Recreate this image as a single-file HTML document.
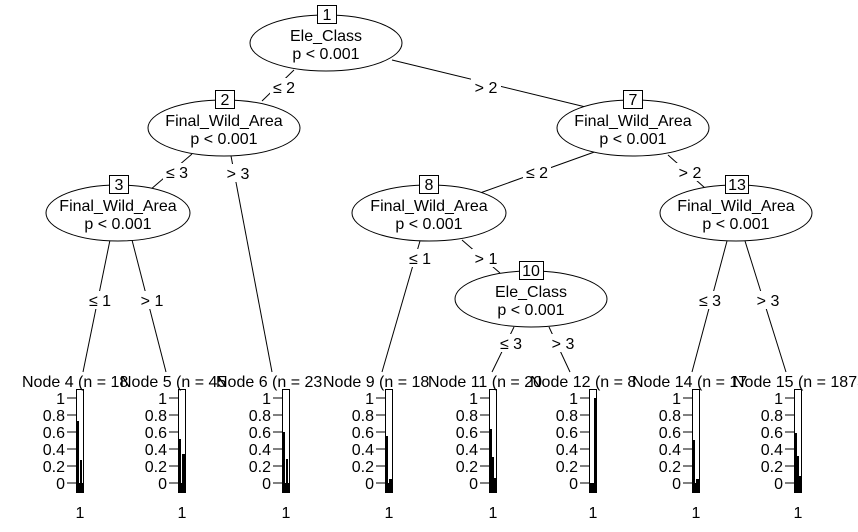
<!DOCTYPE html>
<html><head><meta charset="utf-8"><style>
html,body{margin:0;padding:0;background:#fff}
svg{display:block}
text{font-family:"Liberation Sans",Arial,sans-serif;font-size:16px;fill:#000}
</style></head><body>
<svg width="858" height="532" viewBox="0 0 858 532" xmlns="http://www.w3.org/2000/svg">
<g stroke="#000" stroke-width="1" fill="none">
<line x1="294" y1="70" x2="262" y2="101"/>
<line x1="392" y1="60" x2="598" y2="110"/>
<line x1="192" y1="154" x2="150" y2="190"/>
<line x1="231" y1="156" x2="272" y2="372"/>
<line x1="110" y1="240" x2="83" y2="372"/>
<line x1="132" y1="240" x2="166" y2="372"/>
<line x1="600" y1="150" x2="480" y2="193"/>
<line x1="668" y1="155" x2="705" y2="188"/>
<line x1="420" y1="241" x2="382" y2="372"/>
<line x1="462" y1="240" x2="500" y2="273"/>
<line x1="514" y1="327" x2="492" y2="372"/>
<line x1="549" y1="327" x2="570" y2="372"/>
<line x1="727" y1="241" x2="692" y2="372"/>
<line x1="745" y1="241" x2="786" y2="372"/>
</g>
<g fill="#fff">
<rect x="270" y="78" width="28" height="18"/>
<rect x="471" y="78" width="30" height="18"/>
<rect x="163" y="163" width="28" height="18"/>
<rect x="224" y="164" width="28" height="18"/>
<rect x="86" y="291" width="28" height="18"/>
<rect x="138" y="291" width="28" height="18"/>
<rect x="523" y="163" width="28" height="18"/>
<rect x="676" y="163" width="28" height="18"/>
<rect x="406" y="249" width="28" height="18"/>
<rect x="472" y="249" width="28" height="18"/>
<rect x="497" y="334" width="28" height="18"/>
<rect x="549" y="334" width="28" height="18"/>
<rect x="696" y="291" width="28" height="18"/>
<rect x="754" y="291" width="28" height="18"/>
</g>
<g text-anchor="middle">
<text x="284" y="93">≤ 2</text>
<text x="486" y="93">&gt; 2</text>
<text x="177" y="178">≤ 3</text>
<text x="238" y="179">&gt; 3</text>
<text x="100" y="306">≤ 1</text>
<text x="152" y="306">&gt; 1</text>
<text x="537" y="178">≤ 2</text>
<text x="690" y="178">&gt; 2</text>
<text x="420" y="264">≤ 1</text>
<text x="486" y="264">&gt; 1</text>
<text x="511" y="349">≤ 3</text>
<text x="563" y="349">&gt; 3</text>
<text x="710" y="306">≤ 3</text>
<text x="768" y="306">&gt; 3</text>
</g>
<g stroke="#000" fill="#fff">
<ellipse cx="326" cy="43" rx="76" ry="28"/>
<ellipse cx="224" cy="128" rx="76" ry="28"/>
<ellipse cx="118" cy="213" rx="72" ry="28"/>
<ellipse cx="633" cy="128" rx="76" ry="28"/>
<ellipse cx="429" cy="213" rx="77" ry="28"/>
<ellipse cx="736" cy="213" rx="76" ry="28"/>
<ellipse cx="531" cy="299" rx="76" ry="28"/>
<rect x="317.5" y="5.5" width="19" height="18"/>
<rect x="215.5" y="90.5" width="19" height="18"/>
<rect x="109.5" y="175.5" width="19" height="18"/>
<rect x="623.5" y="90.5" width="19" height="18"/>
<rect x="419.5" y="175.5" width="19" height="18"/>
<rect x="725.5" y="175.5" width="23" height="18"/>
<rect x="519.5" y="261.5" width="24" height="18"/>
</g>
<g text-anchor="middle">
<text x="327" y="20">1</text>
<text x="225" y="105">2</text>
<text x="119" y="190">3</text>
<text x="633" y="105">7</text>
<text x="429" y="190">8</text>
<text x="737" y="190">13</text>
<text x="531" y="276">10</text>
<text x="326" y="41">Ele_Class</text><text x="326" y="59">p &lt; 0.001</text>
<text x="224" y="126">Final_Wild_Area</text><text x="224" y="144">p &lt; 0.001</text>
<text x="118" y="211">Final_Wild_Area</text><text x="118" y="229">p &lt; 0.001</text>
<text x="633" y="126">Final_Wild_Area</text><text x="633" y="144">p &lt; 0.001</text>
<text x="429" y="211">Final_Wild_Area</text><text x="429" y="229">p &lt; 0.001</text>
<text x="736" y="211">Final_Wild_Area</text><text x="736" y="229">p &lt; 0.001</text>
<text x="531" y="297">Ele_Class</text><text x="531" y="315">p &lt; 0.001</text>
</g>
<text x="22" y="387">Node 4 (n = 18</text>
<text x="120" y="387">Node 5 (n = 45</text>
<text x="216" y="387">Node 6 (n = 23</text>
<text x="323" y="387">Node 9 (n = 18</text>
<text x="428" y="387">Node 11 (n = 20</text>
<text x="530" y="387">Node 12 (n = 8</text>
<text x="632" y="387">Node 14 (n = 17</text>
<text x="733" y="387">Node 15 (n = 1873</text>
<defs>
<g id="ax">
<g stroke="#000" fill="none">
<line x1="-9" y1="398" x2="0" y2="398"/><line x1="-9" y1="415" x2="0" y2="415"/>
<line x1="-9" y1="432" x2="0" y2="432"/><line x1="-9" y1="449" x2="0" y2="449"/>
<line x1="-9" y1="466" x2="0" y2="466"/><line x1="-9" y1="483" x2="0" y2="483"/>
<rect x="0.5" y="389.5" width="7" height="94"/>
</g>
<rect x="0" y="483" width="8" height="10" fill="#000"/>
</g>
</defs>
<g>
<g transform="translate(76,0)"><use href="#ax"/><g text-anchor="end"><text x="-11" y="404">1</text><text x="-11" y="421">0.8</text><text x="-11" y="438">0.6</text><text x="-11" y="455">0.4</text><text x="-11" y="472">0.2</text><text x="-11" y="489">0</text></g><rect x="1" y="421" width="2" height="62"/><rect x="4" y="460" width="2" height="23"/><text x="4" y="518" text-anchor="middle">1</text></g>
<g transform="translate(178,0)"><use href="#ax"/><g text-anchor="end"><text x="-11" y="404">1</text><text x="-11" y="421">0.8</text><text x="-11" y="438">0.6</text><text x="-11" y="455">0.4</text><text x="-11" y="472">0.2</text><text x="-11" y="489">0</text></g><rect x="1" y="439" width="2" height="44"/><rect x="4" y="454" width="3" height="29"/><text x="4" y="518" text-anchor="middle">1</text></g>
<g transform="translate(282,0)"><use href="#ax"/><g text-anchor="end"><text x="-11" y="404">1</text><text x="-11" y="421">0.8</text><text x="-11" y="438">0.6</text><text x="-11" y="455">0.4</text><text x="-11" y="472">0.2</text><text x="-11" y="489">0</text></g><rect x="1" y="432" width="2" height="51"/><rect x="4" y="459" width="2" height="24"/><text x="4" y="518" text-anchor="middle">1</text></g>
<g transform="translate(385,0)"><use href="#ax"/><g text-anchor="end"><text x="-11" y="404">1</text><text x="-11" y="421">0.8</text><text x="-11" y="438">0.6</text><text x="-11" y="455">0.4</text><text x="-11" y="472">0.2</text><text x="-11" y="489">0</text></g><rect x="1" y="436" width="2" height="47"/><rect x="4" y="479" width="3" height="4"/><text x="4" y="518" text-anchor="middle">1</text></g>
<g transform="translate(489,0)"><use href="#ax"/><g text-anchor="end"><text x="-11" y="404">1</text><text x="-11" y="421">0.8</text><text x="-11" y="438">0.6</text><text x="-11" y="455">0.4</text><text x="-11" y="472">0.2</text><text x="-11" y="489">0</text></g><rect x="1" y="429" width="2" height="54"/><rect x="3" y="457" width="2" height="26"/><rect x="5" y="478" width="2" height="5"/><text x="4" y="518" text-anchor="middle">1</text></g>
<g transform="translate(589,0)"><use href="#ax"/><g text-anchor="end"><text x="-11" y="404">1</text><text x="-11" y="421">0.8</text><text x="-11" y="438">0.6</text><text x="-11" y="455">0.4</text><text x="-11" y="472">0.2</text><text x="-11" y="489">0</text></g><rect x="5" y="398" width="2" height="85"/><text x="4" y="518" text-anchor="middle">1</text></g>
<g transform="translate(692,0)"><use href="#ax"/><g text-anchor="end"><text x="-11" y="404">1</text><text x="-11" y="421">0.8</text><text x="-11" y="438">0.6</text><text x="-11" y="455">0.4</text><text x="-11" y="472">0.2</text><text x="-11" y="489">0</text></g><rect x="1" y="440" width="2" height="43"/><rect x="4" y="479" width="3" height="4"/><text x="4" y="518" text-anchor="middle">1</text></g>
<g transform="translate(794,0)"><use href="#ax"/><g text-anchor="end"><text x="-11" y="404">1</text><text x="-11" y="421">0.8</text><text x="-11" y="438">0.6</text><text x="-11" y="455">0.4</text><text x="-11" y="472">0.2</text><text x="-11" y="489">0</text></g><rect x="1" y="433" width="2" height="50"/><rect x="3" y="456" width="2" height="27"/><rect x="5" y="476" width="2" height="7"/><text x="4" y="518" text-anchor="middle">1</text></g>
</g>
</svg>
</body></html>
